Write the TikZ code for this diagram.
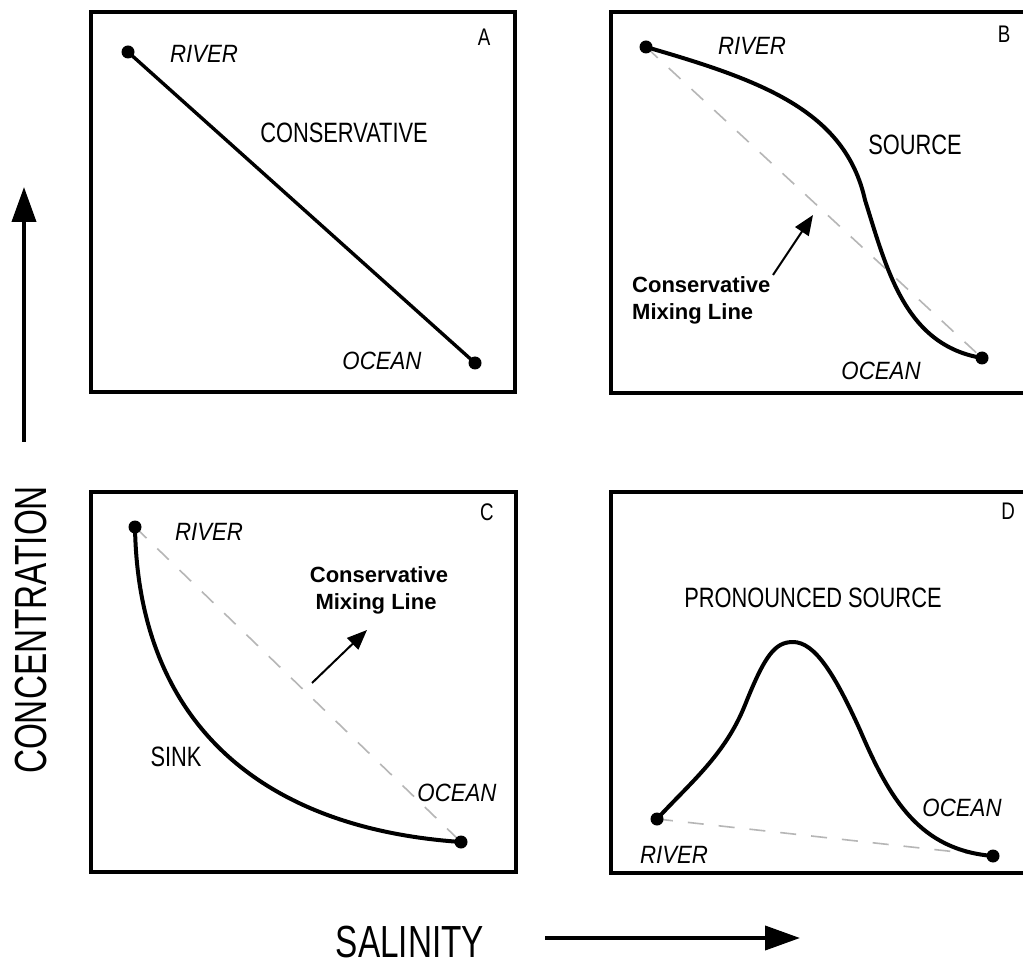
\documentclass[tikz,border=0pt]{standalone}
\usepackage{fontspec}
\setmainfont{Liberation Sans}
\newfontfamily\lblf[FakeStretch=0.78]{Liberation Sans}
\newfontfamily\itf[FakeStretch=0.89]{Liberation Sans}
\newfontfamily\axf[FakeStretch=0.74]{Liberation Sans}
\usetikzlibrary{arrows.meta}
\definecolor{dashgray}{RGB}{182,182,182}
\begin{document}
\begin{tikzpicture}[x=1pt,y=-1pt,
  panel/.style={draw=black,line width=4.5pt},
  dot/.style={circle,fill=black,inner sep=0pt,minimum size=13pt},
  curve/.style={line width=4pt,line cap=round,line join=round},
  mixline/.style={draw=dashgray,line width=1.6pt,dash pattern=on 16pt off 15pt},
  ital/.style={inner sep=0pt,font=\itf\itshape\fontsize{25}{30}\selectfont},
  lbl/.style={inner sep=0pt,font=\lblf\fontsize{28}{33}\selectfont},
  plabel/.style={inner sep=0pt,font=\lblf\fontsize{24}{28}\selectfont},
  note/.style={inner sep=0pt,font=\bfseries\fontsize{22}{27}\selectfont},
  ptr/.style={line width=2pt,-{Triangle[length=20pt,width=16pt]}},
  axis/.style={line width=4pt,-{Triangle[length=35pt,width=24pt]}},
  axlbl/.style={inner sep=0pt,font=\axf\fontsize{45}{50}\selectfont}
]
\useasboundingbox (0,0) rectangle (1023,965);
\clip (0,0) rectangle (1023,965);
\fill[white] (0,0) rectangle (1023,965);

% ---------- panels ----------
\draw[panel] (91,12) rectangle (515,392);
\draw[panel] (611,12) rectangle (1035,393);
\draw[panel] (91,492) rectangle (516,872);
\draw[panel] (611,492) rectangle (1035,873);

% ---------- end points ----------
\coordinate (aR) at (128,52);
\coordinate (aO) at (475,363);
\coordinate (bR) at (646,47);
\coordinate (bO) at (982,358);
\coordinate (cR) at (135,527);
\coordinate (cO) at (461,842);
\coordinate (dR) at (657,819);
\coordinate (dO) at (993,856);

% ---------- mixing lines ----------
\draw[mixline] (bR) -- (bO);
\draw[mixline] (cR) -- (cO);
\draw[mixline] (dR) -- (dO);

% ---------- curves ----------
\draw[line width=3.4pt] (aR) -- (aO);
\draw[curve] (bR) .. controls (760,80) and (845,110) .. (865,200)
                  .. controls (887,270) and (905,345) .. (bO);
\draw[curve] (cR) .. controls (138,720) and (258,828) .. (cO);
\draw[curve] (dR) .. controls (690,783) and (725,755) .. (745,705)
                  .. controls (765,655) and (775,642) .. (793,642)
                  .. controls (815,642) and (835,675) .. (860,730)
                  .. controls (890,800) and (920,850) .. (dO);

% ---------- dots ----------
\foreach \p in {aR,aO,bR,bO,cR,cO,dR,dO}
  \node[dot] (\p dot) at (\p) {};

% ---------- panel labels ----------
\node[plabel] (labA) at (484,37) {A};
\node[plabel] (labB) at (1004,34) {B};
\node[plabel] (labC) at (487,512) {C};
\node[plabel] (labD) at (1008,511) {D};

% ---------- panel A ----------
\node[ital] (aRiver) at (204,54) {RIVER};
\node[lbl] (aCons) at (344,133) {CONSERVATIVE};
\node[ital] (aOcean) at (382,361) {OCEAN};

% ---------- panel B ----------
\node[ital] (bRiver) at (752,46) {RIVER};
\node[lbl] (bSource) at (915,145) {SOURCE};
\node[ital] (bOcean) at (881,371) {OCEAN};
\node[note,anchor=base west] (bNote1) at (632,293) {Conservative};
\node[note,anchor=base west] (bNote2) at (632,320) {Mixing Line};
\coordinate (bPs) at (773,275);
\coordinate (bPe) at (813,215);
\draw[ptr] (bPs) -- (bPe);

% ---------- panel C ----------
\node[ital] (cRiver) at (209,532) {RIVER};
\node[note,anchor=base] (cNote1) at (379,582) {Conservative};
\node[note,anchor=base] (cNote2) at (376,609) {Mixing Line};
\coordinate (cPs) at (312,683);
\coordinate (cPe) at (367,630);
\draw[ptr] (cPs) -- (cPe);
\node[lbl] (cSink) at (176,757) {SINK};
\node[ital] (cOcean) at (457,793) {OCEAN};

% ---------- panel D ----------
\node[lbl] (dSrc) at (813,598) {PRONOUNCED SOURCE};
\node[ital] (dOcean) at (962,808) {OCEAN};
\node[ital] (dRiver) at (674,855) {RIVER};

% ---------- axes ----------
\coordinate (yS) at (24,442);
\coordinate (yE) at (24,187);
\draw[axis] (yS) -- (yE);
\node[axlbl,rotate=90] (conc) at (31,630) {CONCENTRATION};
\coordinate (xS) at (545,938);
\coordinate (xE) at (800,938);
\draw[axis] (xS) -- (xE);
\node[axlbl] (sal) at (410,942) {SALINITY};
\end{tikzpicture}
\end{document}
